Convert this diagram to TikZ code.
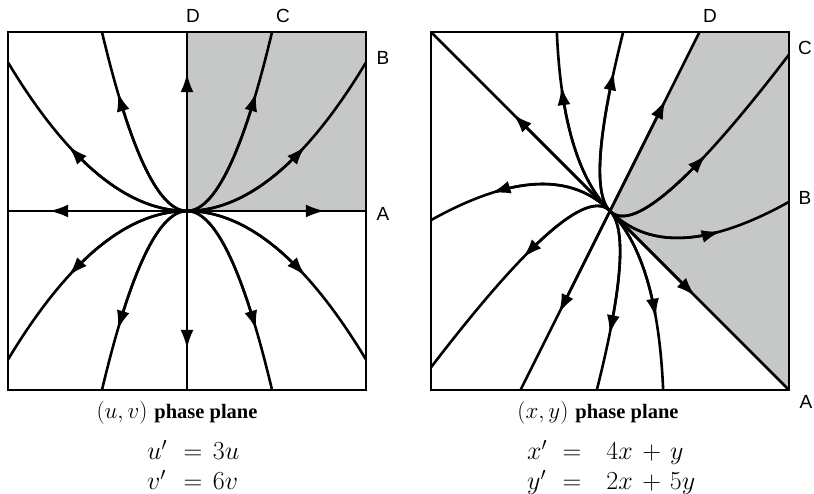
\RequirePackage{fix-cm}
\documentclass[tikz,border=0pt]{standalone}
\usepackage{fontspec}
\newfontfamily\lblfont{Liberation Sans}
\newfontfamily\capfont{Liberation Serif}
\usepackage{tikz}
\usetikzlibrary{arrows.meta}
\definecolor{regiongray}{RGB}{198,199,199}

\begin{document}
\begin{tikzpicture}[x=1pt, y=1pt, >={Latex[length=19pt,width=13pt]},
    traj/.style={line width=2.6pt},
    frame/.style={line width=1.3pt},
    lbl/.style={font=\lblfont\fontsize{19}{20}\selectfont, inner sep=0pt},
    captext/.style={font=\fontsize{23}{24}\selectfont, inner sep=0pt},
    eqn/.style={font=\fontsize{26}{30}\selectfont, inner sep=0pt, anchor=west}]
  \useasboundingbox (0,0) rectangle (814,494);

  % (u,v) phase plane: v = c u^2
  \begin{scope}[shift={(187,283)}, x=179pt, y=179pt]
    \fill[regiongray] (0,0) rectangle (1,1);
    % axes
    \foreach \a in {0,90,180,270} {
      \draw[traj] (0,0) -- (\a:1);
      \draw[traj, ->] (0,0) -- (\a:0.77);
    }
    % parabolas (c / side / tip / end)
    \foreach \cc/\tp/\ua/\ub in {4.43/1/0.387/0.475, 4.43/1/-0.387/-0.475,
                                 4.43/-1/0.387/0.475, 4.43/-1/-0.387/-0.475,
                                 0.83/1/0.66/1, 0.83/1/-0.66/-1,
                                 0.83/-1/0.66/1, 0.83/-1/-0.66/-1} {
      \draw[traj] plot[domain=0:\ub, samples=60] (\x, {\tp*\cc*\x*\x});
      \draw[traj, ->] plot[domain=0:\ua, samples=40] (\x, {\tp*\cc*\x*\x});
    }
    \draw[frame] (-1,-1) rectangle (1,1);
  \end{scope}

  % (x,y) phase plane: same curves seen along (1,-1) and (1,2)
  \begin{scope}[shift={(610,283)}, x=179pt, y=179pt]
    \fill[regiongray] (0,0) -- (0.5,1) -- (1,1) -- (1,-1) -- cycle;
    \begin{scope}
      \clip (-1,-1) rectangle (1,1);
      % eigenlines
      \draw[traj] (-1,1) -- (1,-1);
      \draw[traj] (-0.5,-1) -- (0.5,1);
      \draw[traj, ->] (0,0) -- (-0.54,0.54);
      \draw[traj, ->] (0,0) -- (0.475,-0.475);
      \draw[traj, ->] (0,0) -- (0.31,0.62);
      \draw[traj, ->] (0,0) -- (-0.285,-0.57);
      % curved ones (c / side / tip / end)
      \foreach \cc/\tp/\ua/\ub in {4.43/1/0.253/0.4, 4.43/1/-0.246/-0.4,
                                   4.43/-1/0.228/0.4, 4.43/-1/-0.237/-0.4,
                                   0.83/1/0.45/0.7, 0.83/1/-0.414/-0.7,
                                   0.83/-1/0.37/0.7, 0.83/-1/-0.475/-0.7} {
        \draw[traj] plot[domain=0:\ub, samples=60]
          ({\x+\tp*\cc*\x*\x}, {-\x+2*\tp*\cc*\x*\x});
        \draw[traj, ->] plot[domain=0:\ua, samples=40]
          ({\x+\tp*\cc*\x*\x}, {-\x+2*\tp*\cc*\x*\x});
      }
    \end{scope}
    \draw[frame] (-1,-1) rectangle (1,1);
  \end{scope}

  % edge labels
  \node[lbl] (uvD) at (193,478) {D};
  \node[lbl] (uvC) at (283,478) {C};
  \node[lbl] (uvB) at (383,436) {B};
  \node[lbl] (uvA) at (383,280) {A};
  \node[lbl] (xyD) at (710,478) {D};
  \node[lbl] (xyC) at (805,446) {C};
  \node[lbl] (xyB) at (805,296) {B};
  \node[lbl] (xyA) at (806,92) {A};

  % captions and equations
  \node[captext] (uvcap) at (177,81) {$(u,v)$ {\capfont\fontsize{20.5}{24}\selectfont\bfseries phase plane}};
  \node[captext] (xycap) at (598,81) {$(x,y)$ {\capfont\fontsize{20.5}{24}\selectfont\bfseries phase plane}};
  \node[eqn] (uveq) at (142,25)
    {$\begin{array}{l@{\hspace{16.5pt}}c@{\hspace{10.5pt}}l}
      u' & = & 3u\\ v' & = & 6v \end{array}$};
  \node[eqn] (xyeq) at (522,25)
    {$\begin{array}{l@{\hspace{15.5pt}}c@{\hspace{25pt}}l@{\hspace{9.5pt}}c@{\hspace{9pt}}l}
      x' & = & 4x & + & y\\ y' & = & 2x & + & 5y \end{array}$};
\end{tikzpicture}
\end{document}
